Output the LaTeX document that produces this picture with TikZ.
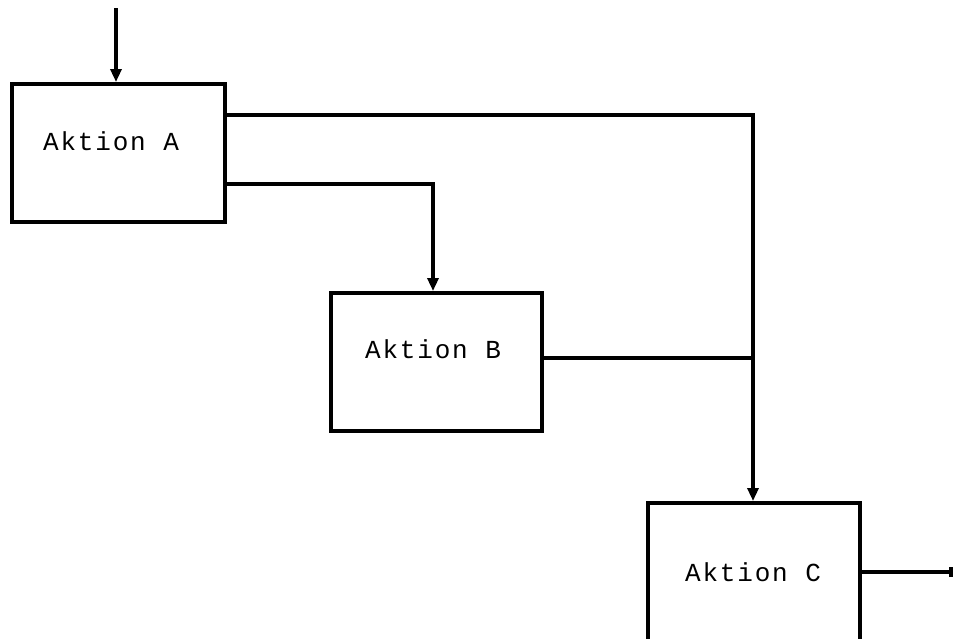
\documentclass[tikz,border=0pt]{standalone}
\usepackage{fontspec}
\setmonofont[LetterSpace=7]{Liberation Mono}
\usetikzlibrary{arrows.meta}
\begin{document}
\begin{tikzpicture}[x=1pt,y=-1pt,
  box/.style={draw,line width=3.6pt,minimum width=213pt,minimum height=138pt,anchor=north west,inner sep=0pt},
  lbl/.style={font=\ttfamily\fontsize{26}{30}\selectfont,inner sep=0pt},
  flow/.style={line width=3.2pt,-{Triangle[length=13pt,width=11pt]}},
  wire/.style={line width=3.2pt}]
  \useasboundingbox (0,0) rectangle (955,638);
  \clip (0,0) rectangle (955,638);
  % action boxes
  \node[box] (A) at (10,82) {};
  \node[box, minimum width=211pt] (B) at (329,291) {};
  \node[box, minimum width=212pt, minimum height=160pt] (C) at (646,501) {};
  \node[lbl] (Atext) at (111,141) {Aktion A};
  \node[lbl] (Btext) at (433,349) {Aktion B};
  \node[lbl] (Ctext) at (753,572) {Aktion C};
  % junction points and free ends
  \coordinate (start) at (116,8);
  \coordinate (join) at (753,358);
  \coordinate (endC) at (953,572);
  % connectors
  \draw[flow] (start) -- (A.north -| start);
  \draw[flow] (A.east |- 0,184) -| (B.north -| 433,0);
  \draw[wire] (A.east |- 0,115) -| (join);
  \draw[wire] (B.east |- 0,358) -- (join);
  \draw[flow] (join) -- (C.north -| join);
  \draw[wire,-{Bar[width=10pt,line width=4pt]}] (C.east |- endC) -- (endC);
\end{tikzpicture}
\end{document}
